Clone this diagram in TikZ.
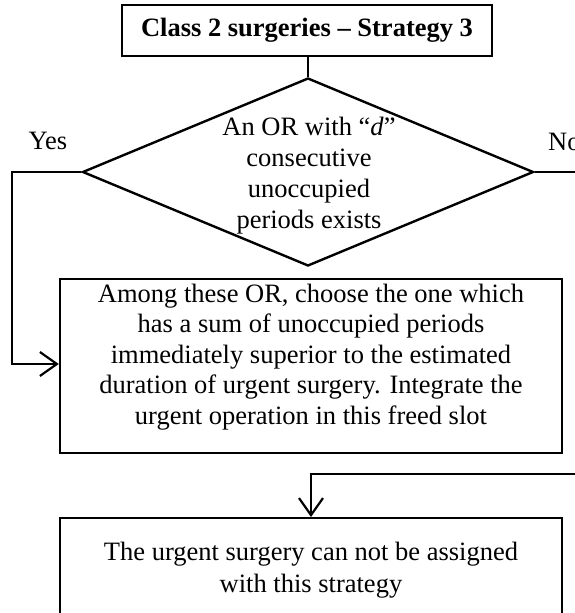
\documentclass[tikz,border=0pt]{standalone}
\usepackage{fontspec}
\setmainfont{Liberation Serif}
\usetikzlibrary{shapes.geometric,arrows.meta}
\begin{document}
\begin{tikzpicture}[x=1pt,y=-1pt,
  box/.style={draw=black,line width=2.4pt,inner sep=0pt},
  conn/.style={draw=black,line width=2.2pt},
  arr/.style={conn,-{Straight Barb[length=17pt,width=24pt,line width=2.2pt]}},
  txt/.style={align=center,inner sep=0pt,font=\fontsize{26.5}{30.5}\selectfont},
  lbl/.style={inner sep=0pt,font=\fontsize{26.5}{30}\selectfont}]
\useasboundingbox (0,0) rectangle (575,613);
% title
\node[box,minimum width=370pt,minimum height=51pt,font=\fontsize{26.5}{30}\selectfont\bfseries] (title) at (307,30.5) {Class 2 surgeries -- Strategy 3};
% decision
\node[draw=black,line width=2.4pt,shape=diamond,inner sep=0pt,minimum width=451pt,minimum height=188pt] (dec) at (308,172) {};
\node[txt,font=\fontsize{26.5}{31}\selectfont] (dectext) at (309,176) {An OR with ``\textit{d}''\\consecutive\\unoccupied\\periods exists};
% action box
\node[box,minimum width=502pt,minimum height=174pt] (act) at (311,366) {};
\node[txt] (acttext) at (311,357) {Among these OR, choose the one which\\has a sum of unoccupied periods\\immediately superior to the estimated\\duration of urgent surgery. Integrate the\\urgent operation in this freed slot};
% bottom box
\node[box,minimum width=502pt,minimum height=130pt,anchor=north] (fail) at (311,517) {};
\node[txt,font=\fontsize{26.5}{32}\selectfont] (failtext) at (311,570) {The urgent surgery can not be assigned\\with this strategy};
% labels
\node[lbl] (yes) at (48,141) {Yes};
\node[lbl,anchor=west] (no) at (548,142) {No};
% connectors
\draw[conn] (title.south -| dec.north) -- (dec.north);
\coordinate (ycorner) at (12,172);
\draw[arr] (dec.west) -- (ycorner) |- (act.west |- 0,364);
\coordinate (noend) at (590,172);
\draw[conn] (dec.east) -- (noend);
\coordinate (retstart) at (590,474);
\draw[arr] (retstart) -- (fail.north |- retstart) -- (fail.north);
\end{tikzpicture}
\end{document}
